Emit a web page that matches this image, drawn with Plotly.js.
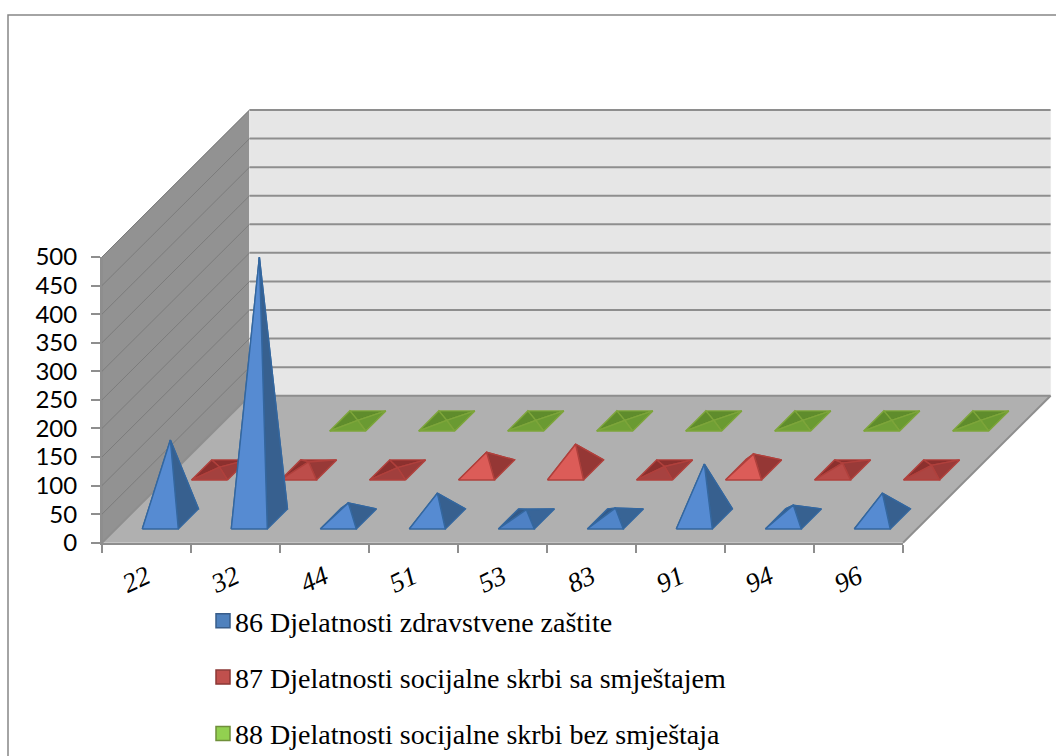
<!DOCTYPE html>
<html><head><meta charset="utf-8">
<script src="https://cdn.plot.ly/plotly-3.0.1.min.js"></script>
<style>html,body{margin:0;padding:0;background:#fff}#c{width:1056px;height:756px}</style></head>
<body><div id="c"></div>
<script>
// ---- data ----
const categories = ['22','32','44','51','53','83','91','94','96'];
const seriesNames = ['86 Djelatnosti zdravstvene zaštite','87 Djelatnosti socijalne skrbi sa smještajem','88 Djelatnosti socijalne skrbi bez smještaja'];
const values86 = [138,458,28,45,16,19,96,24,45];
const values87 = [5,14,4,31,45,6,28,12,8];
const values88 = [null,1,1,1,1,1,1,1,1];
const valueTicks = [0,50,100,150,200,250,300,350,400,450,500];

// ---- geometry of the oblique view ----
const W=1056,H=756, xLeft=102, catPx=89, yZero=542.7, pxPerUnit=285.7/500;
const rowDx=49.2/catPx, rowDy=49/pxPerUnit, rows=3;
const px=(c,r)=>c+r*rowDx, py=(v,r)=>v+r*rowDy;
const halfW=18/catPx, halfD=0.205, n=categories.length;
const traces=[];
function poly(pts,fill,line,lw){
  traces.push({type:'scatter',mode:'lines',xaxis:'x',yaxis:'y',fill:'toself',fillcolor:fill,
    x:pts.map(p=>px(p[0],p[1])).concat(px(pts[0][0],pts[0][1])),
    y:pts.map(p=>py(p[2],p[1])).concat(py(pts[0][2],pts[0][1])),
    line:{color:line,width:lw,shape:'linear'},showlegend:false,hoverinfo:'skip'});
}
function segs(list,color,lw){
  const x=[],y=[];
  list.forEach(s=>{x.push(px(s[0],s[1]),px(s[3],s[4]),null);y.push(py(s[2],s[1]),py(s[5],s[4]),null);});
  traces.push({type:'scatter',mode:'lines',x,y,line:{color,width:lw},showlegend:false,hoverinfo:'skip'});
}
// walls and floor
poly([[0,0,0],[0,rows,0],[0,rows,500],[0,0,500]],'#929292','#8a8a8a',1);
poly([[0,rows,0],[n,rows,0],[n,rows,500],[0,rows,500]],'#e6e6e6','#ececec',1);
poly([[0,0,0],[n,0,0],[n,rows,0],[0,rows,0]],'#b0b0b0','#b0b0b0',0);
segs(valueTicks.slice(1).map(v=>[0,0,v,0,rows,v]),'#7c7c7c',1);
segs(valueTicks.slice(0).map(v=>[0,rows,v,n,rows,v]),'#8e8e8e',2);
segs([[n,0,0,n,rows,0],[0,0,0,0,rows,0]],'#8e8e8e',2);

// pyramids
function mix(a,b,t){const h=s=>[1,3,5].map(i=>parseInt(s.substr(i,2),16));const A=h(a),B=h(b);
  return 'rgb('+A.map((v,i)=>Math.round(v+(B[i]-v)*t)).join(',')+')';}
const styles=[
 {front:['#3f70ad','#568bd2'],right:['#3d6fa8','#37608f'],back:'#35608f',left:'#335a88',line:'#34679f'},
 {front:['#963a38','#dc5c58'],right:['#9c3c3a','#953735'],back:'#8c302e',left:'#8c302e',line:'#b0403c'},
 {front:['#6f9f35','#7fb83c'],right:['#6a9a32','#6a9a32'],back:'#5f8c2c',left:'#5f8c2c',line:'#7da53a'}
];
function pyramid(i,row,v,s){
  if(v===null) return;
  const cx=i+0.5, cr=row+0.485;
  const fl=[cx-halfW,cr-halfD,0], fr=[cx+halfW,cr-halfD,0], br=[cx+halfW,cr+halfD,0], bl=[cx-halfW,cr+halfD,0], ap=[cx,cr,v];
  const t=Math.min(1,v/25);
  poly([bl,br,ap],s.back,s.line,1.4);
  poly([fl,bl,ap],s.left,s.line,1.4);
  poly([fr,br,ap],mix(s.right[0],s.right[1],t),s.line,1.4);
  poly([fl,fr,ap],mix(s.front[0],s.front[1],t),s.line,1.4);
}
values88.forEach((v,i)=>pyramid(i,2,v,styles[2]));
values87.forEach((v,i)=>pyramid(i,1,v,styles[1]));
values86.forEach((v,i)=>pyramid(i,0,v,styles[0]));

// legend entries
const legendFill=['#4f81bd','#c0504d','#92d050'], legendLine=['#385d8a','#8c3836','#6f8f3a'];
seriesNames.forEach((nm,k)=>traces.push({type:'scatter',mode:'markers',name:nm,x:[null],y:[null],legendgroup:'g'+k,
  marker:{symbol:'square',size:14,color:legendFill[k],line:{color:legendLine[k],width:1.5}},hoverinfo:'skip'}));
// category/value axis carrier
traces.push({type:'scatter',mode:'markers',xaxis:'x2',yaxis:'y2',x:categories,y:categories.map(()=>null),showlegend:false,hoverinfo:'skip'});

const layout={
  width:W,height:H,margin:{l:0,r:0,t:0,b:0,autoexpand:false},paper_bgcolor:'#fff',plot_bgcolor:'rgba(0,0,0,0)',
  showlegend:true,
  xaxis:{domain:[0,1],range:[-xLeft/catPx,(W-xLeft)/catPx],visible:false,fixedrange:true},
  yaxis:{domain:[0,1],range:[(yZero-H)/pxPerUnit,yZero/pxPerUnit],visible:false,fixedrange:true},
  xaxis2:{domain:[xLeft/W,(xLeft+n*catPx)/W],anchor:'y2',type:'category',categoryorder:'array',categoryarray:categories,
    range:[-0.5,n-0.5],tickson:'boundaries',ticks:'outside',ticklen:8,tickwidth:2,tickcolor:'#8e8e8e',showgrid:false,
    showline:true,linecolor:'#8e8e8e',linewidth:2,tickangle:-25,ticklabelstandoff:6,zeroline:false,
    tickfont:{family:'Liberation Serif',size:27,style:'italic',color:'#000'},fixedrange:true},
  yaxis2:{domain:[(H-yZero)/H,(H-yZero+285.7)/H],anchor:'x2',range:[0,500],tickmode:'array',tickvals:valueTicks,
    ticks:'outside',ticklen:9,tickwidth:2,tickcolor:'#8e8e8e',showgrid:false,zeroline:false,
    showline:true,linecolor:'#8e8e8e',linewidth:2,ticklabelstandoff:9,
    tickfont:{family:'Lato',size:24,color:'#000'},fixedrange:true},
  legend:{x:195/W,y:1-(596/H),xanchor:'left',yanchor:'top',font:{family:'Liberation Serif',size:28,color:'#000'},
    tracegroupgap:17,bgcolor:'rgba(0,0,0,0)',itemclick:false,itemdoubleclick:false,traceorder:'grouped'},
  shapes:[{type:'path',xref:'paper',yref:'paper',path:`M ${8/W} 0 L ${8/W} ${1-15/H} L 1 ${1-15/H}`,line:{color:'#868686',width:1.5}}]
};
Plotly.newPlot('c',traces,layout,{displayModeBar:false,responsive:false}).then(gd=>{
  // bring the legend swatches next to their labels, as in the reference
  gd.querySelectorAll('.legendsymbols').forEach(s=>s.setAttribute('transform','translate(8,0)'));
});
</script></body></html>
